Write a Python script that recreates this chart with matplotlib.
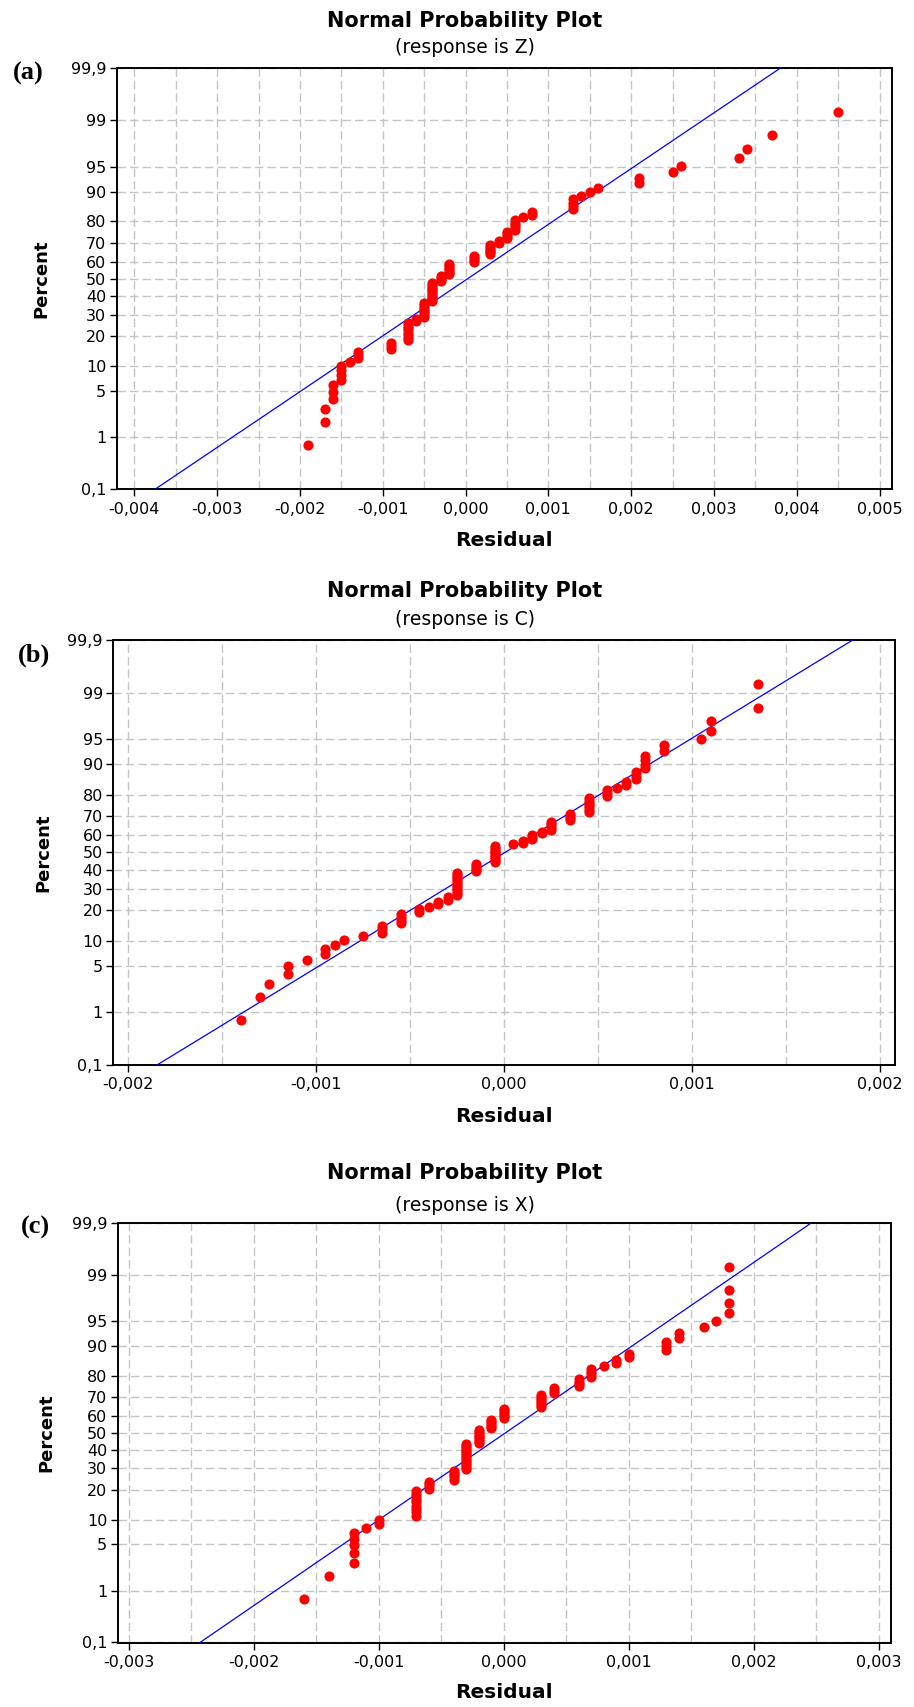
import numpy as np
import matplotlib
matplotlib.use("Agg")
import matplotlib.pyplot as plt
from statistics import NormalDist

# ---------------- data (residuals, with multiplicities) -------------
# (a) response is Z
z_resid_values = [-0.0019, -0.0017, -0.0016, -0.0015, -0.0014, -0.0013, -0.0009, -0.0007,
                  -0.0006, -0.0005, -0.0004, -0.0003, -0.0002, 0.0001, 0.0003, 0.0004,
                  0.0005, 0.0006, 0.0007, 0.0008, 0.0013, 0.0014, 0.0015, 0.0016, 0.0021,
                  0.0025, 0.0026, 0.0033, 0.0034, 0.0037, 0.0045]
z_resid_counts = [1, 2, 3, 4, 1, 3, 3, 8, 2, 8, 11, 4, 7, 4, 6, 2, 4, 5, 1, 2, 4, 1, 1, 1, 2,
                  1, 1, 1, 1, 1, 1]

# (b) response is C
c_resid_values = [-0.0014, -0.0013, -0.00125, -0.00115, -0.00105, -0.00095, -0.0009, -0.00085,
                  -0.00075, -0.00065, -0.00055, -0.00045, -0.0004, -0.00035, -0.0003, -0.00025,
                  -0.00015, -0.00005, 0.00005, 0.0001, 0.00015, 0.0002, 0.00025, 0.00035,
                  0.00045, 0.00055, 0.0006, 0.00065, 0.0007, 0.00075, 0.00085, 0.00105,
                  0.0011, 0.00135]
c_resid_counts = [1, 1, 1, 2, 1, 2, 1, 1, 1, 3, 4, 2, 1, 2, 2, 12, 5, 10, 1, 2, 3, 2, 5, 4,
                  7, 3, 1, 2, 3, 4, 2, 1, 2, 2]

# (c) response is X
x_resid_values = [-0.0016, -0.0014, -0.0012, -0.0011, -0.0010, -0.0007, -0.0006, -0.0004,
                  -0.0003, -0.0002, -0.0001, 0.0000, 0.0003, 0.0004, 0.0006, 0.0007, 0.0008,
                  0.0009, 0.0010, 0.0013, 0.0014, 0.0016, 0.0017, 0.0018]
x_resid_counts = [1, 1, 5, 1, 2, 9, 4, 5, 14, 8, 6, 6, 7, 3, 4, 4, 1, 2, 2, 3, 2, 1, 1, 4]

percent_ticks = [0.1, 1, 5, 10, 20, 30, 40, 50, 60, 70, 80, 90, 95, 99, 99.9]
percent_labels = ["0,1", "1", "5", "10", "20", "30", "40", "50", "60", "70", "80", "90",
                  "95", "99", "99,9"]

a_xticks = [-0.004, -0.003, -0.002, -0.001, 0.0, 0.001, 0.002, 0.003, 0.004, 0.005]
a_xlabels = ["-0,004", "-0,003", "-0,002", "-0,001", "0,000", "0,001", "0,002", "0,003",
             "0,004", "0,005"]
b_xticks = [-0.002, -0.001, 0.0, 0.001, 0.002]
b_xlabels = ["-0,002", "-0,001", "0,000", "0,001", "0,002"]
c_xticks = [-0.003, -0.002, -0.001, 0.0, 0.001, 0.002, 0.003]
c_xlabels = ["-0,003", "-0,002", "-0,001", "0,000", "0,001", "0,002", "0,003"]

responses = ["Z", "C", "X"]
panel_tags = ["(a)", "(b)", "(c)"]

# ---------------- layout (pixels) ----------------
W, H = 914, 1707
ND = NormalDist()


def fwd(p):
    p = np.clip(np.asarray(p, dtype=float), 1e-7, 100 - 1e-7)
    return np.vectorize(lambda v: ND.inv_cdf(v / 100.0), otypes=[float])(p)


def inv(z):
    z = np.asarray(z, dtype=float)
    return np.vectorize(lambda v: ND.cdf(v) * 100.0, otypes=[float])(z)


fig = plt.figure(figsize=(W / 100, H / 100), dpi=100)


def fx(x):
    return x / W


def fy(y):
    return 1 - y / H


panels = [
    dict(vals=z_resid_values, cnts=z_resid_counts, rect=(116.7, 68.3, 891.7, 489.3),
         xlim=(-0.004213, 0.005147), xt=a_xticks, xl=a_xlabels,
         title_y=26.7, sub_y=53.0, pct_x=41.0, res_y=540.5, tag=(28.5, 73.0)),
    dict(vals=c_resid_values, cnts=c_resid_counts, rect=(113.3, 640.0, 895.0, 1064.9),
         xlim=(-0.002078, 0.00208), xt=b_xticks, xl=b_xlabels,
         title_y=596.7, sub_y=625.0, pct_x=43.5, res_y=1116.7, tag=(34.0, 655.0)),
    dict(vals=x_resid_values, cnts=x_resid_counts, rect=(117.7, 1223.3, 890.7, 1642.5),
         xlim=(-0.00309, 0.003094), xt=c_xticks, xl=c_xlabels,
         title_y=1179.0, sub_y=1211.0, pct_x=46.8, res_y=1693.0, tag=(35.0, 1227.0)),
]

grid_kw = dict(color="#c4c4c4", linewidth=1.0, linestyle=(0, (6, 3)))

for k, P in enumerate(panels):
    l, t, r, b = P["rect"]
    ax = fig.add_axes([fx(l), fy(b), (r - l) / W, (b - t) / H])
    ax.set_yscale("function", functions=(fwd, inv))
    ax.set_ylim(0.1, 99.9)
    ax.set_xlim(*P["xlim"])

    resid = np.sort(np.repeat(np.array(P["vals"]), np.array(P["cnts"])))
    n = resid.size
    ranks = np.arange(1, n + 1)
    pct = (ranks - 0.3) / (n + 0.4) * 100.0

    mu, sd = resid.mean(), resid.std(ddof=1)
    line_p = np.array([0.1, 99.9])
    line_x = mu + sd * fwd(line_p)

    ax.set_yticks(percent_ticks)
    ax.set_yticklabels(percent_labels)
    ax.yaxis.set_minor_locator(matplotlib.ticker.NullLocator())
    ax.set_xticks(P["xt"])
    ax.set_xticklabels(P["xl"])
    ax.xaxis.set_minor_locator(matplotlib.ticker.MultipleLocator(0.0005))

    ax.grid(True, axis="y", which="major", **grid_kw)
    ax.grid(True, axis="x", which="both", **grid_kw)
    ax.set_axisbelow(True)

    ax.plot(line_x, line_p, color="#0000ff", linewidth=0.9, zorder=3)
    ax.plot(resid, pct, linestyle="none", marker="o", markersize=7.3,
            color="#ff0000", markeredgewidth=0, zorder=4)

    for s in ax.spines.values():
        s.set_linewidth(1.4)
        s.set_color("black")
    ax.tick_params(axis="both", which="major", direction="out", length=5, width=1.0,
                   labelsize=11.5, colors="black")
    ax.tick_params(axis="x", which="major", pad=4)
    ax.tick_params(axis="y", which="major", pad=2.5)
    ax.tick_params(axis="x", which="minor", length=0)

    xc = (l + r) / 2
    fig.text(fx(465), fy(P["title_y"]), "Normal Probability Plot", ha="center",
             va="baseline", fontsize=15, fontweight="bold")
    fig.text(fx(465), fy(P["sub_y"]), "(response is %s)" % responses[k], ha="center",
             va="baseline", fontsize=13.5)
    fig.text(fx(xc), fy(P["res_y"]), "Residual", ha="center", va="center",
             fontsize=14.5, fontweight="bold")
    fig.text(fx(P["pct_x"]), fy((t + b) / 2), "Percent", ha="center", va="center",
             rotation=90, fontsize=13, fontweight="bold")
    fig.text(fx(P["tag"][0]), fy(P["tag"][1]), panel_tags[k], ha="center", va="center",
             fontsize=19, fontweight="bold", family=["Liberation Serif", "DejaVu Serif"])

fig.savefig("out.png", dpi=100)
